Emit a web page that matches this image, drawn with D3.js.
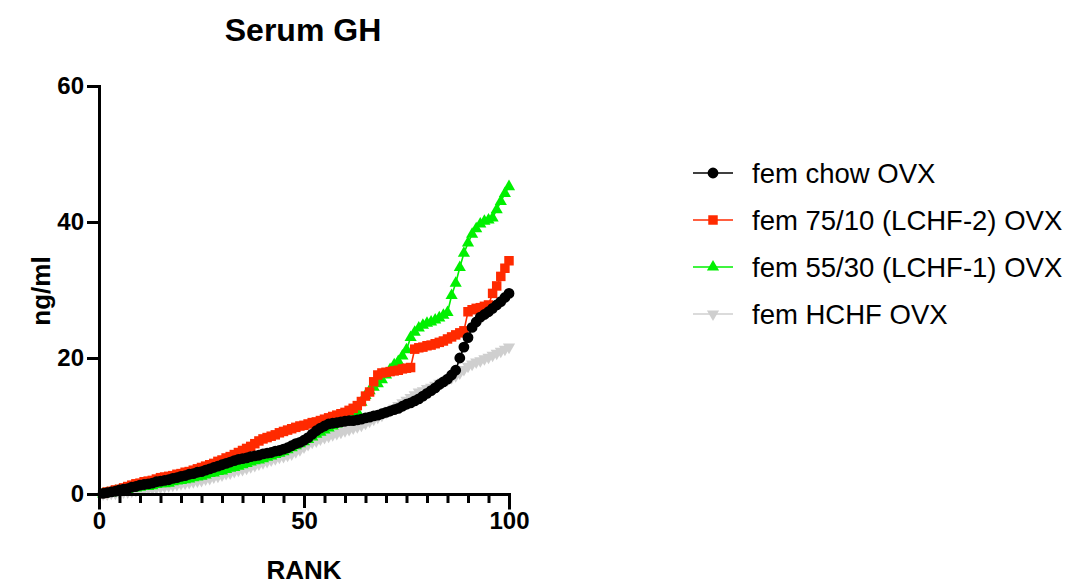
<!DOCTYPE html>
<html>
<head>
<meta charset="utf-8">
<script src="https://cdn.jsdelivr.net/npm/d3@7"></script>
<style>
  html, body { margin: 0; padding: 0; background: #fff; }
  svg { display: block; font-family: "Liberation Sans", Arial, Helvetica, sans-serif; }
</style>
</head>
<body>
<svg id="chart" width="1076" height="586"></svg>
<script>
// Serum GH values (ng/ml), sorted by rank within each group
const chowOVX = [
  0.1, 0.2, 0.3, 0.4, 0.6, 0.7, 0.8, 1.0, 1.1, 1.3,
  1.4, 1.5, 1.6, 1.8, 1.9, 2.0, 2.1, 2.3, 2.4, 2.6,
  2.7, 2.9, 3.0, 3.2, 3.3, 3.5, 3.7, 3.9, 4.1, 4.3,
  4.5, 4.7, 4.9, 5.1, 5.2, 5.3, 5.5, 5.6, 5.7, 5.9,
  6.0, 6.1, 6.3, 6.4, 6.6, 6.8, 7.1, 7.4, 7.6, 7.9,
  8.3, 8.8, 9.3, 9.7, 10.0, 10.3, 10.4, 10.5, 10.6, 10.7,
  10.8, 10.8, 10.9, 11.0, 11.2, 11.3, 11.5, 11.6, 11.8, 12.0,
  12.2, 12.4, 12.6, 12.9, 13.2, 13.4, 13.7, 14.0, 14.4, 14.8,
  15.2, 15.6, 16.1, 16.5, 16.9, 17.5, 18.2, 20.0, 21.6, 23.0,
  24.5, 25.3, 26.0, 26.4, 26.8, 27.3, 27.8, 28.3, 28.9, 29.5
];
const lchf2OVX = [
  0.1, 0.3, 0.4, 0.6, 0.7, 0.9, 1.1, 1.3, 1.5, 1.6,
  1.8, 1.9, 2.0, 2.2, 2.4, 2.5, 2.6, 2.7, 2.9, 3.0,
  3.2, 3.3, 3.5, 3.7, 3.9, 4.1, 4.3, 4.5, 4.8, 5.0,
  5.3, 5.5, 5.8, 6.1, 6.4, 6.7, 7.0, 7.4, 7.8, 8.1,
  8.3, 8.5, 8.7, 9.0, 9.2, 9.4, 9.6, 9.8, 10.0, 10.1,
  10.3, 10.5, 10.6, 10.8, 11.0, 11.2, 11.4, 11.6, 11.8, 12.0,
  12.3, 12.6, 13.0, 13.6, 14.4, 15.0, 16.5, 17.5, 17.8, 17.9,
  18.0, 18.1, 18.2, 18.4, 18.5, 18.6, 21.3, 21.5, 21.6, 21.8,
  21.9, 22.1, 22.3, 22.5, 22.8, 23.1, 23.4, 23.7, 24.0, 26.8,
  27.1, 27.3, 27.4, 27.6, 27.8, 29.5, 30.6, 32.0, 33.2, 34.3
];
const lchf1OVX = [
  0.0, 0.1, 0.2, 0.4, 0.5, 0.5, 0.6, 0.8, 0.9, 1.0,
  1.1, 1.1, 1.2, 1.4, 1.5, 1.5, 1.6, 1.8, 1.9, 2.0,
  2.1, 2.2, 2.4, 2.5, 2.6, 2.8, 3.0, 3.1, 3.3, 3.4,
  3.6, 3.8, 3.9, 4.1, 4.3, 4.5, 4.7, 4.9, 5.0, 5.2,
  5.4, 5.6, 5.8, 6.0, 6.2, 6.5, 6.8, 7.1, 7.4, 7.7,
  8.0, 8.4, 8.8, 9.1, 9.4, 9.7, 10.0, 10.3, 10.6, 10.9,
  11.3, 11.7, 12.1, 13.5, 14.5, 15.2, 15.7, 16.2, 16.8, 17.5,
  18.3, 19.0, 19.5, 20.3, 21.2, 23.0, 23.8, 24.4, 24.8, 25.1,
  25.3, 25.6, 25.9, 26.3, 26.7, 29.2, 31.0, 33.3, 35.4, 36.9,
  38.2, 39.0, 39.7, 40.1, 40.3, 40.6, 41.8, 43.0, 44.2, 45.2
];
const hchfOVX = [
  0.0, 0.0, 0.1, 0.1, 0.2, 0.3, 0.3, 0.4, 0.5, 0.6,
  0.7, 0.8, 0.8, 0.9, 1.0, 1.1, 1.2, 1.3, 1.4, 1.5,
  1.6, 1.7, 1.8, 1.9, 2.0, 2.2, 2.3, 2.5, 2.6, 2.8,
  3.0, 3.1, 3.3, 3.5, 3.6, 3.8, 4.0, 4.2, 4.4, 4.6,
  4.8, 5.0, 5.2, 5.4, 5.5, 5.7, 5.9, 6.2, 6.5, 6.9,
  7.3, 7.6, 7.8, 8.1, 8.3, 8.5, 8.7, 8.9, 9.1, 9.3,
  9.5, 9.7, 9.9, 10.1, 10.4, 10.7, 11.0, 11.3, 11.6, 12.0,
  12.3, 12.6, 13.0, 13.4, 13.8, 14.2, 14.6, 15.0, 15.2, 15.5,
  15.7, 16.0, 16.3, 16.5, 16.8, 17.1, 17.4, 17.8, 18.3, 18.8,
  19.1, 19.4, 19.6, 19.9, 20.1, 20.4, 20.7, 21.0, 21.3, 21.6
];

const seriesNames = [
  "fem chow OVX",
  "fem 75/10 (LCHF-2) OVX",
  "fem 55/30 (LCHF-1) OVX",
  "fem HCHF OVX"
];
const seriesValues = [chowOVX, lchf2OVX, lchf1OVX, hchfOVX];
const xMajorTicks = [0, 50, 100];
const xMinorTicks = d3.range(0, 101, 5);
const yTicks = [0, 20, 40, 60];

const styles = [
  { color: "#000000", symbol: d3.symbolCircle, size: 92, rotate: 0 },
  { color: "#FF2A00", symbol: d3.symbolSquare, size: 90, rotate: 0 },
  { color: "#00F000", symbol: d3.symbolTriangle, size: 64, rotate: 0 },
  { color: "#CFCFCF", symbol: d3.symbolTriangle, size: 64, rotate: 180 }
];

const svg = d3.select("#chart");
const x = d3.scaleLinear().domain([0, 100]).range([99, 509]);
const y = d3.scaleLinear().domain([0, 60]).range([494, 86]);

// Title
svg.append("text")
  .attr("x", 303).attr("y", 41)
  .attr("text-anchor", "middle")
  .attr("font-size", 32).attr("font-weight", "bold")
  .text("Serum GH");

// Series: drawn back to front so chow sits on top
const line = d3.line().x((d, i) => x(i + 1)).y(d => y(d));
const order = [3, 2, 1, 0];
order.forEach(k => {
  const s = styles[k];
  const g = svg.append("g");
  g.append("path")
    .datum(seriesValues[k])
    .attr("d", line)
    .attr("fill", "none")
    .attr("stroke", s.color)
    .attr("stroke-width", 1.6);
  const sym = d3.symbol().type(s.symbol).size(s.size);
  g.selectAll("path.pt")
    .data(seriesValues[k])
    .join("path")
    .attr("class", "pt")
    .attr("d", sym)
    .attr("fill", s.color)
    .attr("transform", (d, i) => `translate(${x(i + 1)},${y(d)}) rotate(${s.rotate})`);
});

// X axis: minor ticks every 5, labelled major ticks
const xMinor = svg.append("g")
  .attr("transform", "translate(0,494)")
  .call(d3.axisBottom(x).tickValues(xMinorTicks).tickSize(9).tickFormat(""));
const xMajor = svg.append("g")
  .attr("transform", "translate(0,494)")
  .call(d3.axisBottom(x).tickValues(xMajorTicks).tickSize(14).tickPadding(4).tickFormat(d3.format("d")));
[xMinor, xMajor].forEach(a => {
  a.select(".domain").attr("stroke-width", 3).attr("stroke-linecap", "square");
  a.selectAll(".tick line").attr("stroke-width", 3);
});
xMajor.selectAll(".tick text")
  .attr("font-size", 24).attr("font-weight", "bold")
  .attr("font-family", "Liberation Sans, Arial, sans-serif")
  .attr("fill", "#000");

// Y axis
const yAxis = svg.append("g")
  .attr("transform", "translate(99,0)")
  .call(d3.axisLeft(y).tickValues(yTicks).tickSize(12).tickPadding(3).tickSizeOuter(0).tickFormat(d3.format("d")));
yAxis.select(".domain").attr("stroke-width", 3).attr("stroke-linecap", "square");
yAxis.selectAll(".tick line").attr("stroke-width", 3);
yAxis.selectAll(".tick text")
  .attr("font-size", 24).attr("font-weight", "bold")
  .attr("font-family", "Liberation Sans, Arial, sans-serif")
  .attr("fill", "#000");

// Axis titles
svg.append("text")
  .attr("transform", "translate(50,291) rotate(-90)")
  .attr("text-anchor", "middle")
  .attr("font-size", 26).attr("font-weight", "bold")
  .text("ng/ml");
svg.append("text")
  .attr("x", 304).attr("y", 579)
  .attr("text-anchor", "middle")
  .attr("font-size", 26).attr("font-weight", "bold")
  .text("RANK");

// Legend
const legend = svg.append("g");
seriesNames.forEach((name, k) => {
  const s = styles[k];
  const cy = 173 + k * 47;
  legend.append("line")
    .attr("x1", 693).attr("x2", 733)
    .attr("y1", cy).attr("y2", cy)
    .attr("stroke", s.color).attr("stroke-width", 1.6);
  legend.append("path")
    .attr("d", d3.symbol().type(s.symbol).size(s.size)())
    .attr("fill", s.color)
    .attr("transform", `translate(713,${cy}) rotate(${s.rotate})`);
  legend.append("text")
    .attr("x", 752).attr("y", cy)
    .attr("dy", "0.35em")
    .attr("font-size", 27.5)
    .text(name);
});
</script>
</body>
</html>
